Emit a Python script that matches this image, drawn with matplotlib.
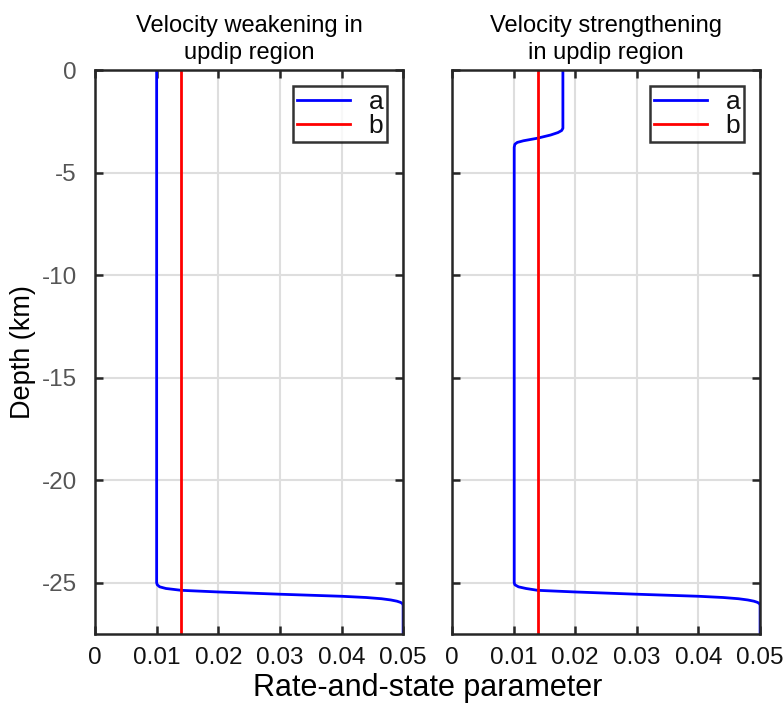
import matplotlib
matplotlib.use("Agg")
import matplotlib.pyplot as plt

plt.rcParams['font.family'] = ['Liberation Sans', 'DejaVu Sans']
plt.rcParams['axes.unicode_minus'] = False

# depth (km) and a for the velocity-weakening case
depth_left = [0, -25.0, -25.1, -25.2, -25.28, -25.37, -25.45, -25.56, -25.66, -25.72, -25.78, -25.84, -25.9, -25.96, -26.02, -26.1, -27.6]
a_left = [0.010, 0.010, 0.0101, 0.0105, 0.0115, 0.0140, 0.0200, 0.0300, 0.0400, 0.0440, 0.0465, 0.0480, 0.0490, 0.0496, 0.0499, 0.0500, 0.0500]

# depth (km) and a for the velocity-strengthening case
depth_right = [0, -2.84, -2.95, -3.05, -3.17, -3.33, -3.45, -3.53, -3.62, -3.77, -25.0, -25.1, -25.2, -25.28, -25.37,
               -25.45, -25.56, -25.66, -25.72, -25.78, -25.84, -25.9, -25.96, -26.02, -26.1, -27.6]
a_right = [0.018, 0.018, 0.0178, 0.0172, 0.0160, 0.0138, 0.0116, 0.0106, 0.0102, 0.0101, 0.0101, 0.0102, 0.0108,
           0.0120, 0.0139, 0.0200, 0.0300, 0.0400, 0.0440, 0.0465, 0.0480, 0.0490, 0.0496, 0.0499, 0.0500, 0.0500]

b_value = 0.0139
titles = ["Velocity weakening in\nupdip region", "Velocity strengthening\nin updip region"]
xticks = [0, 0.01, 0.02, 0.03, 0.04, 0.05]
xticklabels = ["0", "0.01", "0.02", "0.03", "0.04", "0.05"]
yticks = [0, -5, -10, -15, -20, -25]

fig = plt.figure(figsize=(7.84, 7.05), dpi=100)
ax1 = fig.add_axes([0.1212, 0.1007, 0.393, 0.800])
ax2 = fig.add_axes([0.5765, 0.1007, 0.393, 0.800])

dark = '#262626'
for ax, depth, a, title in [(ax1, depth_left, a_left, titles[0]), (ax2, depth_right, a_right, titles[1])]:
    ax.plot(a, depth, color='#0000ff', linewidth=2, label='a')
    ax.axvline(b_value, color='#ff0000', linewidth=2, label='b')
    ax.set_xlim(0, 0.05)
    ax.set_ylim(-27.5, 0)
    ax.set_xticks(xticks)
    ax.set_xticklabels(xticklabels)
    ax.set_yticks(yticks)
    ax.grid(True, color='#dedede', linewidth=1.5)
    ax.set_axisbelow(True)
    for s in ax.spines.values():
        s.set_color(dark)
        s.set_linewidth(1.8)
    ax.tick_params(direction='in', length=6, width=1.8, color=dark, top=True, right=True,
                   labelsize=17.5, pad=9)
    ax.tick_params(axis='x', labelcolor='#111111')
    ax.tick_params(axis='y', labelcolor='#555555', pad=13)
    ax.set_title(title, fontsize=17, color='#000000', pad=8, linespacing=1.3)
    leg = ax.legend(loc='upper right', fontsize=19, frameon=True, fancybox=False,
                    handlelength=2.0, handletextpad=0.7, borderpad=0.15, labelspacing=0.0,
                    borderaxespad=0.6)
    leg.get_frame().set_edgecolor('#000000')
    leg.get_frame().set_linewidth(1.8)
    for t in leg.get_texts():
        t.set_color('#111111')

ax2.set_yticklabels([])
ax1.set_ylabel("Depth (km)", fontsize=19.5, color='#000000', labelpad=4)
fig.text(0.545, 0.024, "Rate-and-state parameter", fontsize=22, ha='center', va='center', color='#000000')

fig.savefig("out.png", dpi=100)
